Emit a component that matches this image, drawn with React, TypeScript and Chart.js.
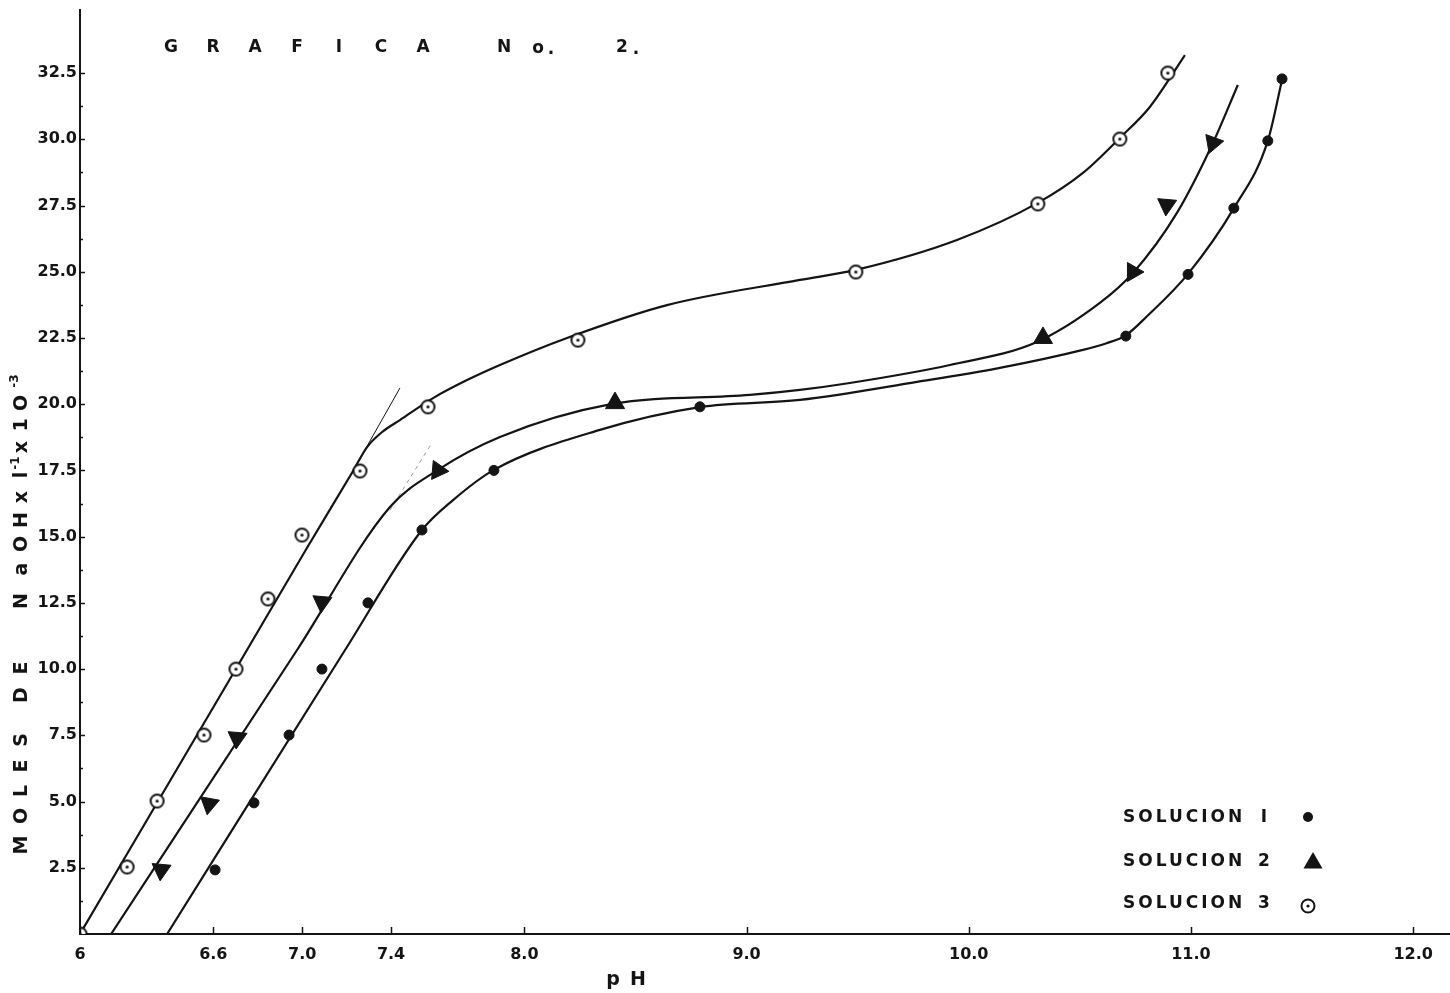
import React, { useEffect, useRef } from "react";
import { Chart, registerables } from "chart.js";

Chart.register(...registerables);

// ---------- axis ticks ----------
const xTicks = [6, 6.6, 7.0, 7.4, 8, 9, 10, 11, 12];
const xTickLabels = ["6", "6.6", "7.0", "7.4", "8.0", "9.0", "10.0", "11.0", "12.0"];
const yTicks = [2.5, 5, 7.5, 10, 12.5, 15, 17.5, 20, 22.5, 25, 27.5, 30, 32.5];
const yTickLabels = ["2.5", "5.0", "7.5", "10.0", "12.5", "15.0", "17.5", "20.0", "22.5", "25.0", "27.5", "30.0", "32.5"];

// ---------- measured points ----------
const sol1PH = [6.608, 6.783, 6.941, 7.089, 7.296, 7.539, 7.863, 8.79, 10.707, 10.987, 11.193, 11.346, 11.41];
const sol1Moles = [2.42, 4.95, 7.51, 10.0, 12.5, 15.25, 17.5, 19.9, 22.57, 24.9, 27.4, 29.94, 32.28];

const sol2PH = [6.365, 6.581, 6.707, 7.089, 7.611, 8.408, 10.334, 10.739, 10.891, 11.099];
const sol2Moles = [2.42, 4.91, 7.4, 12.53, 17.5, 20.04, 22.5, 24.99, 27.52, 29.86];
const sol2Rotation = [185, 190, 185, 185, 215, 0, 240, 210, 185, 200];

const sol3PH = [6.0, 6.212, 6.347, 6.558, 6.702, 6.846, 6.999, 7.26, 7.566, 8.241, 9.492, 10.311, 10.68, 10.896];
const sol3Moles = [0, 2.53, 5.02, 7.51, 10.0, 12.65, 15.06, 17.48, 19.9, 22.42, 24.99, 27.56, 30.01, 32.5];

// ---------- hand-drawn curves (traced) ----------
const curve1PH = [6.392, 7.193, 7.539, 7.679, 7.863, 8.34, 8.79, 9.24, 9.767, 10.14, 10.514, 10.62, 10.707, 10.8, 10.987, 11.194, 11.346, 11.41];
const curve1Moles = [0, 10.72, 15.25, 16.38, 17.52, 19.03, 19.89, 20.16, 20.84, 21.37, 22.05, 22.3, 22.6, 23.3, 24.92, 27.41, 29.94, 32.24];

const curve2PH = [6.14, 6.977, 7.395, 7.611, 7.89, 8.39, 9.015, 9.24, 9.465, 9.915, 10.307, 10.59, 10.739, 10.937, 11.099, 11.211];
const curve2Moles = [0, 10.72, 16.12, 17.52, 18.76, 20.0, 20.35, 20.54, 20.8, 21.48, 22.35, 23.82, 24.95, 27.22, 29.86, 32.05];

const curve3PH = [6.0, 6.743, 7.02, 7.229, 7.292, 7.36, 7.44, 7.589, 7.742, 7.89, 8.192, 8.642, 9.24, 9.492, 9.947, 10.311, 10.514, 10.68, 10.815, 10.973];
const curve3Moles = [0, 10.6, 14.55, 17.48, 18.38, 18.95, 19.4, 20.23, 20.91, 21.48, 22.5, 23.74, 24.69, 25.07, 26.2, 27.6, 28.73, 30.05, 31.22, 33.18];

// construction (tangent) lines
const tangent3PH = [7.229, 7.44];
const tangent3Moles = [17.48, 20.61];
const tangent2PH = [7.395, 7.584];
const tangent2Moles = [16.0, 18.54];

const legendLabels = ["SOLUCION", "SOLUCION", "SOLUCION"];
const legendNumbers = ["I", "2", "3"];

const INK = "#141414";
const FONT = "'DejaVu Sans', sans-serif";

const toPts = (xs: number[], ys: number[]) => xs.map((x, i) => ({ x, y: ys[i] }));

function makeDotCircle(r: number): HTMLCanvasElement {
  const s = Math.ceil(r * 2 + 4);
  const c = document.createElement("canvas");
  c.width = s;
  c.height = s;
  const g = c.getContext("2d")!;
  g.beginPath();
  g.arc(s / 2, s / 2, r, 0, Math.PI * 2);
  g.fillStyle = "#fff";
  g.fill();
  g.lineWidth = 2;
  g.strokeStyle = INK;
  g.stroke();
  g.beginPath();
  g.arc(s / 2, s / 2, 1.6, 0, Math.PI * 2);
  g.fillStyle = INK;
  g.fill();
  return c;
}

function vChar(ctx: CanvasRenderingContext2D, ch: string, x: number, y: number, font: string) {
  ctx.save();
  ctx.translate(x, y);
  ctx.rotate(-Math.PI / 2);
  ctx.font = font;
  ctx.textAlign = "center";
  ctx.textBaseline = "middle";
  ctx.fillText(ch, 0, 0);
  ctx.restore();
}

const decorPlugin = {
  id: "decor",
  afterDraw(chart: any) {
    const ctx: CanvasRenderingContext2D = chart.ctx;
    const xs = chart.scales.x;
    const ys = chart.scales.y;
    ctx.save();
    ctx.strokeStyle = INK;
    ctx.fillStyle = INK;

    // inward tick stubs
    ctx.lineWidth = 1.5;
    ctx.beginPath();
    xTicks.forEach((v) => {
      const px = Math.round(xs.getPixelForValue(v)) + 0.5;
      ctx.moveTo(px, ys.bottom);
      ctx.lineTo(px, ys.bottom - 7);
    });
    yTicks.forEach((v) => {
      const py = Math.round(ys.getPixelForValue(v)) + 0.5;
      ctx.moveTo(xs.left, py);
      ctx.lineTo(xs.left + 5, py);
      const pm = Math.round(ys.getPixelForValue(v - 1.25)) + 0.5;
      ctx.moveTo(xs.left, pm);
      ctx.lineTo(xs.left + 3, pm);
    });
    ctx.stroke();

    // title
    ctx.font = `bold 17px ${FONT}`;
    ctx.textAlign = "center";
    ctx.textBaseline = "middle";
    "GRAFICA".split("").forEach((ch, i) => ctx.fillText(ch, 171 + i * 42, 48));
    ctx.fillText("N", 504, 48);
    ctx.fillText("o", 538, 49);
    ctx.fillText(".", 551, 50);
    ctx.fillText("2", 622, 48);
    ctx.fillText(".", 636, 50);

    // x axis title
    ctx.font = `bold 19px ${FONT}`;
    ctx.fillText("p", 613, 980);
    ctx.fillText("H", 638, 980);

    // y axis title (vertical, hand lettered)
    const big = `bold 19px ${FONT}`;
    const sup = `bold 12px ${FONT}`;
    const tx = 22;
    const letters: [string, number][] = [
      ["M", 845], ["O", 816], ["L", 791], ["E", 766], ["S", 740],
      ["D", 695], ["E", 668],
      ["N", 601], ["a", 569], ["O", 544], ["H", 520], ["x", 497], ["l", 475], ["x", 447], ["1", 425], ["O", 403],
    ];
    letters.forEach(([ch, y]) => vChar(ctx, ch, tx, y, big));
    vChar(ctx, "-1", tx - 6, 463, sup);
    vChar(ctx, "-3", tx - 7, 381, sup);

    // legend
    const rows = [818, 862, 904];
    ctx.textAlign = "left";
    ctx.font = `bold 17px ${FONT}`;
    rows.forEach((y, i) => {
      (ctx as any).letterSpacing = "3px";
      ctx.fillText(legendLabels[i], 1123, y);
      (ctx as any).letterSpacing = "0px";
      ctx.textAlign = "center";
      ctx.fillText(legendNumbers[i], 1264, y);
      ctx.textAlign = "left";
    });
    // legend markers
    ctx.beginPath();
    ctx.arc(1308, 817, 5, 0, Math.PI * 2);
    ctx.fill();
    ctx.beginPath();
    const tr = 11;
    const tcx = 1313, tcy = 863;
    ctx.moveTo(tcx, tcy - tr);
    ctx.lineTo(tcx + tr * Math.cos(Math.PI / 6), tcy + tr * 0.5);
    ctx.lineTo(tcx - tr * Math.cos(Math.PI / 6), tcy + tr * 0.5);
    ctx.closePath();
    ctx.fill();
    ctx.beginPath();
    ctx.arc(1308, 906, 6.5, 0, Math.PI * 2);
    ctx.lineWidth = 2;
    ctx.stroke();
    ctx.beginPath();
    ctx.arc(1308, 906, 1.6, 0, Math.PI * 2);
    ctx.fill();

    ctx.restore();
  },
};

export default function App() {
  const ref = useRef<HTMLCanvasElement | null>(null);

  useEffect(() => {
    if (!ref.current) return;
    const dotImg = makeDotCircle(6.5);
    const curveStyle = {
      showLine: true,
      borderColor: INK,
      borderWidth: 2.2,
      pointRadius: 0,
      cubicInterpolationMode: "monotone" as const,
      fill: false,
    };
    const chart = new Chart(ref.current, {
      type: "line",
      data: {
        datasets: [
          {
            label: "SOLUCION 3",
            data: toPts(sol3PH, sol3Moles),
            showLine: false,
            pointStyle: dotImg as any,
            pointRadius: 7,
          },
          {
            label: "SOLUCION 2",
            data: toPts(sol2PH, sol2Moles),
            showLine: false,
            pointStyle: "triangle",
            pointRadius: 11,
            pointRotation: sol2Rotation,
            pointBackgroundColor: INK,
            pointBorderColor: INK,
            pointBorderWidth: 1,
          },
          {
            label: "SOLUCION 1",
            data: toPts(sol1PH, sol1Moles),
            showLine: false,
            pointStyle: "circle",
            pointRadius: 5,
            pointBackgroundColor: INK,
            pointBorderColor: INK,
            pointBorderWidth: 1,
          },
          { label: "curva 3", data: toPts(curve3PH, curve3Moles), ...curveStyle },
          { label: "curva 2", data: toPts(curve2PH, curve2Moles), ...curveStyle },
          { label: "curva 1", data: toPts(curve1PH, curve1Moles), ...curveStyle },
          {
            label: "tangente 3",
            data: toPts(tangent3PH, tangent3Moles),
            showLine: true,
            borderColor: INK,
            borderWidth: 1,
            pointRadius: 0,
          },
          {
            label: "tangente 2",
            data: toPts(tangent2PH, tangent2Moles),
            showLine: true,
            borderColor: "#9a9a9a",
            borderWidth: 1,
            borderDash: [4, 4],
            pointRadius: 0,
          },
        ],
      },
      options: {
        animation: false,
        responsive: false,
        devicePixelRatio: 1,
        events: [],
        layout: { autoPadding: false, padding: { top: 10, right: 0, left: 0, bottom: 0 } },
        plugins: {
          legend: { display: false },
          tooltip: { enabled: false },
          title: { display: false },
        },
        scales: {
          x: {
            type: "linear",
            min: 6,
            max: 12.166,
            afterBuildTicks: (scale: any) => {
              scale.ticks = xTicks.map((v) => ({ value: v }));
            },
            afterFit: (scale: any) => {
              scale.height = 59;
              scale.paddingLeft = 0;
              scale.paddingRight = 0;
            },
            grid: { display: true, drawOnChartArea: false, drawTicks: false },
            border: { display: true, color: INK, width: 2 },
            ticks: {
              autoSkip: false,
              maxRotation: 0,
              minRotation: 0,
              padding: 11,
              color: INK,
              font: { family: FONT, size: 16, weight: "bold" },
              callback: (_v: any, i: number) => xTickLabels[i],
            },
          },
          y: {
            type: "linear",
            min: 0,
            max: 34.88,
            afterBuildTicks: (scale: any) => {
              scale.ticks = yTicks.map((v) => ({ value: v }));
            },
            afterFit: (scale: any) => {
              scale.width = 80;
              scale.paddingTop = 0;
              scale.paddingBottom = 0;
            },
            grid: { display: true, drawOnChartArea: false, drawTicks: false },
            border: { display: true, color: INK, width: 2 },
            ticks: {
              autoSkip: false,
              padding: 3,
              color: INK,
              font: { family: FONT, size: 16, weight: "bold" },
              callback: (_v: any, i: number) => yTickLabels[i],
            },
          },
        },
      },
      plugins: [decorPlugin],
    });
    return () => chart.destroy();
  }, []);

  return (
    <div style={{ position: "fixed", left: 0, top: 0, width: 1450, height: 993, background: "#fff" }}>
      <canvas ref={ref} width={1450} height={993} style={{ display: "block", width: 1450, height: 993 }} />
    </div>
  );
}
